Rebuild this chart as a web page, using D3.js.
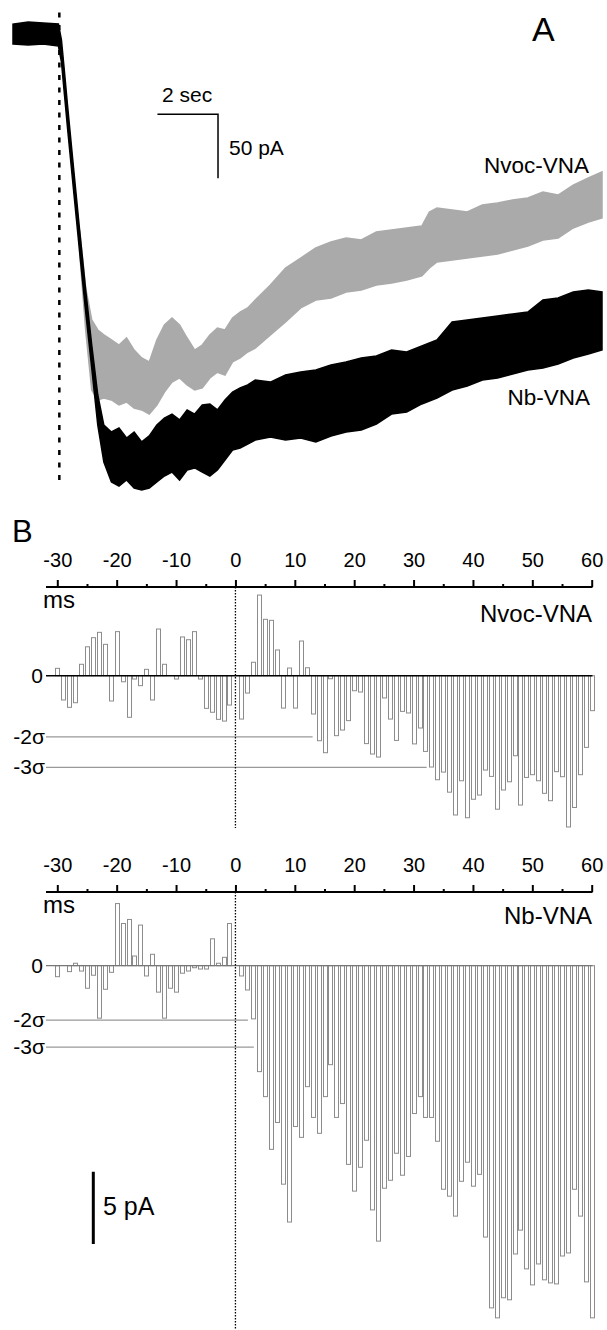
<!DOCTYPE html>
<html>
<head>
<meta charset="utf-8">
<script src="https://cdn.jsdelivr.net/npm/d3@7"></script>
<style>
  body { margin: 0; background: #fff; }
  svg text { font-family: 'Liberation Sans', Arial, sans-serif; fill: #000; }
</style>
</head>
<body>
<div id="chart"></div>
<script>
// ---- panel A : current traces, read as noise envelopes (s, pA) ----
let nbTime = [0, 0.5, 1.0, 1.5, 1.6, 1.7, 1.8, 2.0, 2.2, 2.4, 2.6, 2.8, 3.0, 3.25, 3.5, 3.75, 4.0, 4.25, 4.5, 4.75,
  5.0, 5.25, 5.5, 5.75, 6.0, 6.25, 6.5, 6.75, 7.0, 7.25, 7.5, 7.75, 8.0, 8.5, 9.0, 9.5, 10.0, 10.5, 11.0, 11.5,
  12.0, 12.5, 13.0, 13.5, 14.0, 14.5, 15.0, 15.5, 16.0, 16.5, 17.0, 17.5, 18.0, 18.5, 19.0, 19.45];
let nbTop = [7.0, 8.6, 7.8, 7.0, -5.5, -30.5, -56.3, -105.5, -153.9, -200.8, -243.8, -282.8, -306.3, -311.7, -308.6, -316.4, -311.7, -319.5, -314.8, -306.3,
  -300.8, -297.7, -302.3, -294.5, -297.7, -290.6, -289.8, -294.5, -286.7, -280.5, -277.3, -275, -271.1, -272.7, -267.2, -264.8, -263.3, -259.4, -257, -253.9,
  -252.3, -247.7, -249.2, -244.5, -239.8, -225.8, -224.2, -222.7, -221.1, -219.5, -218, -208.6, -207, -202.3, -200.8, -202.3];
let nbBottom = [-8.6, -9.4, -8.6, -10.2, -22.7, -48.4, -74.2, -122.7, -171.1, -218, -261.7, -306.3, -335.2, -350.8, -353.9, -349.2, -355.5, -357, -355.5, -350.8,
  -346.1, -343, -349.2, -341.4, -339.8, -343, -346.1, -341.4, -333.6, -325.8, -324.2, -321.1, -318, -315.6, -318, -316.4, -319.5, -314.8, -311.7, -310.2,
  -305.5, -297.7, -296.1, -289.8, -285.2, -278.9, -275.8, -271.1, -269.5, -266.4, -263.3, -261.7, -258.6, -253.9, -250.8, -247.7];

let nvocTime = [2.2, 2.4, 2.6, 2.8, 3.0, 3.25, 3.5, 3.75, 4.0, 4.25, 4.5, 4.75, 5.0, 5.25, 5.5, 5.75, 6.0, 6.25, 6.5, 6.75,
  7.0, 7.25, 7.5, 7.75, 8.0, 8.5, 9.0, 9.5, 10.0, 10.5, 11.0, 11.5, 12.0, 12.5, 13.0, 13.5, 13.75, 14.0, 14.5, 15.0,
  15.5, 16.0, 16.5, 17.0, 17.5, 18.0, 18.5, 19.0, 19.45];
let nvocTop = [-153.9, -199.2, -224.2, -232, -235.9, -239.8, -243.8, -238.3, -247.7, -253.9, -257, -239.8, -228.1, -222.7, -228.1, -238.3, -247.7, -243.8, -236, -230.5,
  -232, -222.7, -218, -214.8, -208.6, -196.9, -183.6, -175.8, -168, -163.3, -160.2, -161.7, -155.5, -153.9, -152.3, -150.8, -139.8, -136.7, -138.3, -139.8,
  -134.4, -132.8, -130.5, -128.9, -124.2, -126.6, -118.8, -113.3, -108.6];
let nvocBottom = [-171.1, -232, -278.9, -286.7, -285.2, -286.7, -290.6, -288.3, -293, -294.5, -297.7, -290.6, -280.5, -272.7, -269.5, -275, -278.9, -277.3, -269.5, -265,
  -267.2, -257, -253.9, -249.2, -246.1, -235.9, -225.8, -214.8, -208.6, -207, -202.3, -200.8, -196.9, -195.3, -193, -189.8, -183.6, -178.9, -177.3, -175.8,
  -174.2, -172.7, -169.5, -166.4, -161.7, -160.2, -152.3, -147.7, -144.5];

// ---- panel B : cross-correlation histograms, 1 ms bins (pA) ----
let lagBins = [-30, -29, -28, -27, -26, -25, -24, -23, -22, -21, -20, -19, -18, -17, -16, -15, -14, -13, -12, -11,
  -10, -9, -8, -7, -6, -5, -4, -3, -2, -1, 0, 1, 2, 3, 4, 5, 6, 7, 8, 9, 10, 11, 12, 13, 14, 15, 16, 17, 18, 19,
  20, 21, 22, 23, 24, 25, 26, 27, 28, 29, 30, 31, 32, 33, 34, 35, 36, 37, 38, 39, 40, 41, 42, 43, 44, 45, 46, 47, 48, 49,
  50, 51, 52, 53, 54, 55, 56, 57, 58, 59, 60];
let nvocBins = [0.51, -1.68, -2.19, -1.87, 0.79, 2.0, 2.63, 3.0, 2.17, -1.75,
  3.05, -0.42, -2.88, -0.23, -0.69, 0.44, -1.68, 3.23, 0.79, 0,
  -0.23, 2.68, 2.49, 3.05, -0.23, -2.26, -2.53, -3.02, -3.14, -2.03,
  0, -3.0, -1.2, 0.93, 5.58, 3.9, 3.83, 1.78, -2.24, 0.53,
  -2.24, 2.4, 0.55, -2.65, -4.5, -5.33, -0.21, -4.15, -3.76, -3.11,
  -1.04, -1.13, -4.7, -5.42, -5.63, -1.54, -3.0, -4.48, -2.47, -2.58,
  -4.72, -3.62, -5.24, -6.32, -7.2, -6.67, -8.06, -9.64, -7.27, -9.83,
  -8.55, -8.26, -6.53, -6.97, -9.24, -7.91, -7.34, -5.54, -8.95, -7.04,
  -6.85, -7.27, -8.14, -8.65, -6.64, -6.99, -10.47, -9.12, -6.85, -4.96,
  -2.42];
let nbBins = [-0.76, 0, -0.41, 0.17, -0.37, -1.56, -0.66, -3.63, -1.63, -0.46,
  4.3, 2.92, 3.2, 0.67, 2.81, -0.71, 0.79, -1.83, -3.63, -1.56,
  -1.83, -0.52, -0.37, -0.14, -0.23, -0.23, 1.86, 0.17, 0.58, 2.92,
  0, -0.71, -1.68, -3.68, -7.33, -9.06, -12.71, -10.85, -15.12, -17.74,
  -11.13, -11.88, -8.37, -10.5, -11.6, -9.06, -6.85, -10.5, -9.54, -13.75,
  -15.6, -13.95, -12.08, -16.9, -19.06, -15.4, -14.85, -12.98, -14.5, -13.2,
  -10.23, -9.06, -10.5, -10.5, -12.15, -15.47, -15.95, -17.33, -14.92, -13.6,
  -15.26, -14.44, -18.78, -23.68, -24.37, -22.98, -23.12, -19.95, -18.3, -20.98,
  -22.09, -20.64, -21.74, -21.95, -22.02, -20.09, -19.88, -15.47, -17.33, -21.88,
  -24.37];
let majorTicks = [-30, -20, -10, 0, 10, 20, 30, 40, 50, 60];
let minorTicks = [-25, -15, -5, 5, 15, 25, 35, 45, 55];
let nvocSigma = 2.115;   // -2σ / -3σ threshold lines
let nbSigma = 1.88;

let w = 607, h = 1330;
let svg = d3.select('#chart')
  .append('svg')
  .attr('width', w)
  .attr('height', h)
  .style('display', 'block');

// ================= panel A =================
let xA = d3.scaleLinear().domain([0, 19.45]).range([13, 602]);
let yA = d3.scaleLinear().domain([0, -400]).range([33, 545]);

function band(times, tops, bottoms) {
  return d3.area()
    .x((d, i) => xA(times[i]))
    .y0((d, i) => yA(tops[i]))
    .y1((d, i) => yA(bottoms[i]))(times);
}

svg.append('path')
  .attr('d', band(nvocTime, nvocTop, nvocBottom))
  .attr('fill', '#aaaaaa')
  .attr('stroke', '#aaaaaa')
  .attr('stroke-width', 1.5);

svg.append('path')
  .attr('d', band(nbTime, nbTop, nbBottom))
  .attr('fill', '#000')
  .attr('stroke', '#000')
  .attr('stroke-width', 1.5);

// flash marker
svg.append('line')
  .attr('x1', xA(1.53)).attr('x2', xA(1.53))
  .attr('y1', yA(16)).attr('y2', yA(-350))
  .attr('stroke', '#000')
  .attr('stroke-width', 2.5)
  .attr('stroke-dasharray', '5,7.5');

// scale bar 2 s / 50 pA
let sbT = 4.77, sbI = -63.5;
svg.append('path')
  .attr('d', d3.line()([[xA(sbT), yA(sbI)], [xA(sbT + 2), yA(sbI)], [xA(sbT + 2), yA(sbI - 50)]]))
  .attr('fill', 'none')
  .attr('stroke', '#000')
  .attr('stroke-width', 1.5);

svg.append('text').text('2 sec').attr('x', 162).attr('y', 102).attr('font-size', 21);
svg.append('text').text('50 pA').attr('x', 229).attr('y', 155).attr('font-size', 21);
svg.append('text').text('A').attr('x', 532).attr('y', 41).attr('font-size', 34);
svg.append('text').text('Nvoc-VNA').attr('x', 589).attr('y', 173)
  .attr('text-anchor', 'end').attr('font-size', 22.5);
svg.append('text').text('Nb-VNA').attr('x', 590).attr('y', 405)
  .attr('text-anchor', 'end').attr('font-size', 22.5);

// ================= panel B =================
svg.append('text').text('B').attr('x', 12).attr('y', 542).attr('font-size', 31);

let xB = d3.scaleLinear().domain([-30, 60]).range([57.3, 591.7]);

function histogram(values, zeroY, axisY, dotEnd, sigma, sigmaEnds, label, labelY, zeroColor) {
  let y = d3.scaleLinear().domain([0, -10]).range([zeroY, zeroY + 144.5]);

  // top axis
  let gMaj = svg.append('g').attr('transform', 'translate(0,' + axisY + ')')
    .call(d3.axisTop(xB).tickValues(majorTicks).tickFormat(d => String(d))
      .tickSize(7).tickPadding(13).tickSizeOuter(0));
  gMaj.select('.domain').remove();
  gMaj.selectAll('line').attr('stroke', '#000').attr('stroke-width', 2);
  gMaj.selectAll('text').attr('font-size', 20).attr('font-family', "'Liberation Sans', Arial, sans-serif");

  let gMin = svg.append('g').attr('transform', 'translate(0,' + axisY + ')')
    .call(d3.axisTop(xB).tickValues(minorTicks).tickFormat('').tickSize(3).tickSizeOuter(0));
  gMin.select('.domain').remove();
  gMin.selectAll('line').attr('stroke', '#000').attr('stroke-width', 2);

  svg.append('line')
    .attr('x1', 46).attr('x2', 592.5)
    .attr('y1', axisY).attr('y2', axisY)
    .attr('stroke', '#000').attr('stroke-width', 2);

  svg.append('text').text('ms').attr('x', 43).attr('y', axisY + 21).attr('font-size', 24);
  svg.append('text').text(label).attr('x', 592).attr('y', labelY)
    .attr('text-anchor', 'end').attr('font-size', 24);

  // bars
  svg.append('g')
    .selectAll('rect')
    .data(values.map((v, i) => ({ lag: lagBins[i], v: v })).filter(d => d.v !== 0))
    .enter()
    .append('rect')
    .attr('x', d => Math.round(xB(d.lag) - 2) + 0.5)
    .attr('y', d => y(Math.max(d.v, 0)))
    .attr('width', 4)
    .attr('height', d => Math.abs(y(d.v) - y(0)))
    .attr('fill', '#fff')
    .attr('stroke', '#8c8c8c')
    .attr('stroke-width', 1);

  // zero line
  svg.append('line')
    .attr('x1', 46).attr('x2', 592.5)
    .attr('y1', y(0)).attr('y2', y(0))
    .attr('stroke', zeroColor).attr('stroke-width', zeroColor === '#000' ? 1.6 : 1.2);

  // sigma lines
  [2, 3].forEach((k, i) => {
    svg.append('line')
      .attr('x1', 46).attr('x2', xB(sigmaEnds[i]))
      .attr('y1', y(-k * sigma)).attr('y2', y(-k * sigma))
      .attr('stroke', '#999').attr('stroke-width', 1.2);
    svg.append('text').text('-' + k + 'σ')
      .attr('x', 45).attr('y', y(-k * sigma) + 7)
      .attr('text-anchor', 'end').attr('font-size', 21);
  });
  svg.append('text').text('0').attr('x', 43).attr('y', y(0) + 7.5)
    .attr('text-anchor', 'end').attr('font-size', 21);

  // time zero
  svg.append('line')
    .attr('x1', xB(0)).attr('x2', xB(0))
    .attr('y1', axisY).attr('y2', dotEnd)
    .attr('stroke', '#000').attr('stroke-width', 1.3)
    .attr('stroke-dasharray', '1.5,1.5');

  return y;
}

histogram(nvocBins, 675.7, 587, 828, nvocSigma, [13, 32.2], 'Nvoc-VNA', 622, '#000');
let yNb = histogram(nbBins, 965.7, 892, 1330, nbSigma, [2.1, 3.1], 'Nb-VNA', 924, '#777');

// 5 pA scale bar (same pA scale as the histograms)
svg.append('line')
  .attr('x1', 93.3).attr('x2', 93.3)
  .attr('y1', yNb(-14.26)).attr('y2', yNb(-19.26))
  .attr('stroke', '#000').attr('stroke-width', 3);
svg.append('text').text('5 pA').attr('x', 103).attr('y', 1215).attr('font-size', 25);
</script>
</body>
</html>
